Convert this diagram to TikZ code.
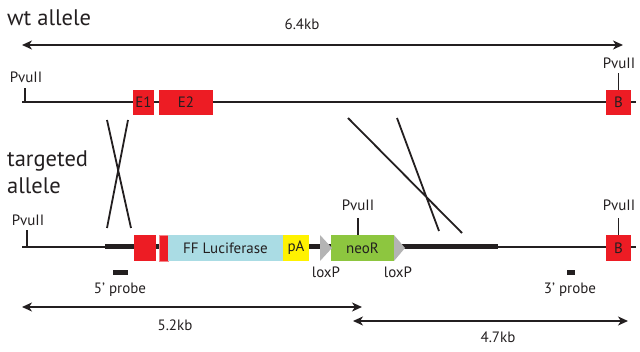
\documentclass[tikz,border=0pt]{standalone}
\usepackage{fontspec}
\setmainfont{PT Sans}
\usetikzlibrary{arrows.meta}

\definecolor{ink}{RGB}{35,31,32}
\definecolor{exonred}{RGB}{237,28,36}
\definecolor{lucblue}{RGB}{170,220,228}
\definecolor{pAyellow}{RGB}{255,242,0}
\definecolor{neogreen}{RGB}{141,198,63}
\definecolor{loxgray}{RGB}{180,180,180}

\begin{document}
\begin{tikzpicture}[x=1pt, y=-1pt]
\tikzstyle{every node}=[font=\fontsize{15}{17}\selectfont, text=ink, inner sep=0pt];
\tikzstyle{title}=[font=\fontsize{22.5}{27}\selectfont];
\tikzstyle{box}=[fill=exonred, minimum height=25];
\tikzstyle{thin}=[draw=ink, line width=1.8];
\tikzstyle{dim}=[draw=ink, line width=2, {Stealth[length=10,width=9,inset=3]}-{Stealth[length=10,width=9,inset=3]}];
\useasboundingbox (0,0) rectangle (640,352);

% wt allele
\node [title, anchor=base west] (wt) at (7,26) {wt allele};
\coordinate (w0) at (22,45);
\coordinate (w1) at (623,45);
\draw [dim] (w0) -- (w1);
\node (kb64) at (302,24) {6.4kb};
\draw [thin] (22,102) -- (636,102);
\draw [thin] (25,102) -- (25,88);
\node (pv1) at (26,77) {PvuII};
\node [box, minimum width=21] (e1) at (143.5,102.5) {E1};
\node [box, minimum width=54] (e2) at (186,102.5) {E2};
\node [box, minimum width=25] (b1) at (618.5,102.5) {B};
\draw [thin] (b1.north) -- ++(0,-17);
\node (pv2) at (619,63) {PvuII};

% crossovers
\draw [thin] (107,120) -- (131,228)
             (128,120) -- (107,228);
\draw [thin] (348,118) -- (462,233)
             (397,118) -- (439,231);

% targeted allele
\node [title, anchor=north west, align=left] (tg) at (7,151) {targeted\\allele};
\draw [thin] (22,247) -- (636,247);
\draw [draw=ink, line width=5] (105,247) -- (498,247);
\draw [thin] (27,247) -- (27,230);
\node (pv3) at (28,220) {PvuII};
\node [box, minimum width=22, minimum height=26] (e3) at (145,248) {};
\node [box, minimum width=9, minimum height=26, draw=exonred!55, line width=0.8] (e4) at (163.5,248) {};
\node [box, fill=lucblue, minimum width=115, minimum height=26] (luc) at (225.5,248) {FF Luciferase};
\node [box, fill=pAyellow, minimum width=26, minimum height=26] (pa) at (296,248) {pA};
\node [box, fill=neogreen, minimum width=63, minimum height=26] (neo) at (362.5,248) {neoR};
\fill [loxgray] (320,235) -- (332,248) -- (320,261) -- cycle;
\fill [loxgray] (394,235) -- (405,248) -- (394,261) -- cycle;
\node (lx1) at (326,272) {loxP};
\node (lx2) at (398,272) {loxP};
\draw [thin] (neo.north) ++(-4.5,0) -- ++(0,-17);
\node (pv4) at (358,205) {PvuII};
\node [box, minimum width=25, minimum height=26] (b2) at (618.5,248) {B};
\draw [thin] (b2.north) -- ++(0,-17);
\node (pv5) at (619,205) {PvuII};

% probes
\fill [ink] (113,270.5) rectangle (128,275.5);
\node (p5) at (120,290) {5’ probe};
\fill [ink] (567,270.5) rectangle (575,275.5);
\node (p3) at (570,290) {3’ probe};

% sizes
\coordinate (a0) at (22,307);
\coordinate (a1) at (362,307);
\draw [dim] (a0) -- (a1);
\node (kb52) at (175,325) {5.2kb};
\coordinate (c0) at (353,321);
\coordinate (c1) at (628,321);
\draw [dim] (c0) -- (c1);
\node (kb47) at (498,337) {4.7kb};
\end{tikzpicture}
\end{document}
